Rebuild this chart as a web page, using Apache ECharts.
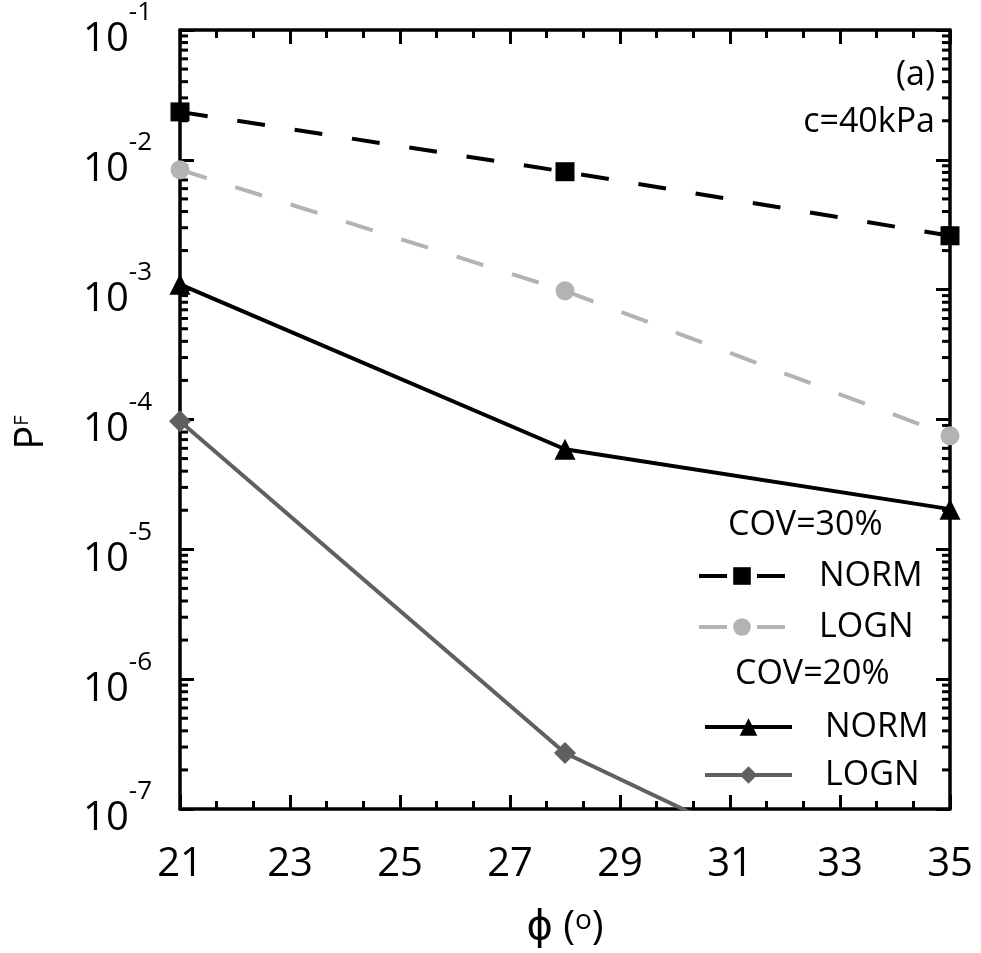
<!DOCTYPE html>
<html>
<head>
<meta charset="utf-8">
<script src="https://cdn.jsdelivr.net/npm/echarts@6/dist/echarts.min.js"></script>
<style>html,body{margin:0;padding:0;background:#fff;}#c{width:981px;height:953px;}</style>
</head>
<body>
<div id="c"></div>
<script>
// ---- data ----
var phi = [21, 28, 35];
var normCov30 = [0.0234, 0.0081, 0.0026];
var lognCov30 = [0.0084, 0.00098, 0.000075];
var normCov20 = [0.0011, 0.000059, 0.0000204];
var lognCov20 = [0.000097, 0.00000027, 0.0000000105];
var xTicks = [21, 23, 25, 27, 29, 31, 33, 35];
var yDecades = [-7, -6, -5, -4, -3, -2, -1];
var minorMult = [2, 3, 4, 5, 6, 7, 8, 9];

var FONT = "'Open Sans', 'DejaVu Sans', sans-serif";

function pairs(xs, ys) { return xs.map(function (x, i) { return [x, ys[i]]; }); }

// log minor ticks values
var minorVals = [];
yDecades.slice(0, -1).forEach(function (e) {
  minorMult.forEach(function (m) { minorVals.push([xTicks[0], m * Math.pow(10, e)]); });
});

var chart = echarts.init(document.getElementById('c'));

var axisLineStyle = { color: '#000', width: 3.5 };
var tickStyle = { color: '#000', width: 3 };

var option = {
  backgroundColor: '#fff',
  animation: false,
  grid: { left: 180, right: 31, top: 30, bottom: 144, containLabel: false, outerBoundsMode: 'none' },
  xAxis: [{
    type: 'value', min: xTicks[0], max: xTicks[xTicks.length - 1], interval: 2,
    position: 'bottom',
    name: '{b|\u03d5 (}{s|o}{b|)}', nameLocation: 'middle', nameGap: 98,
    nameTextStyle: { rich: {
      b: { fontSize: 40, fontFamily: FONT, color: '#000', lineHeight: 42 },
      s: { fontSize: 28, fontFamily: FONT, color: '#000', lineHeight: 28, verticalAlign: 'top' }
    } },
    axisLine: { show: true, onZero: false, lineStyle: axisLineStyle },
    axisTick: { show: true, inside: true, length: 14, lineStyle: tickStyle },
    minorTick: { show: true, splitNumber: 3, length: 8, lineStyle: tickStyle },
    splitLine: { show: false },
    axisLabel: { fontSize: 40, fontFamily: FONT, color: '#000', margin: 36 }
  }, {
    type: 'value', min: xTicks[0], max: xTicks[xTicks.length - 1], interval: 2,
    position: 'top',
    axisLine: { show: true, onZero: false, lineStyle: axisLineStyle },
    axisTick: { show: true, inside: true, length: 14, lineStyle: tickStyle },
    minorTick: { show: true, splitNumber: 3, length: 8, lineStyle: tickStyle },
    splitLine: { show: false },
    axisLabel: { show: false }
  }],
  yAxis: [{
    type: 'log', logBase: 10, min: 1e-7, max: 1e-1, interval: 1,
    position: 'left',
    name: '{p|P}{s|F}', nameLocation: 'middle', nameRotate: 90, nameGap: 110,
    nameTextStyle: { rich: {
      p: { fontSize: 40, fontFamily: FONT, color: '#000', lineHeight: 20, verticalAlign: 'top' },
      s: { fontSize: 20, fontFamily: FONT, color: '#000', lineHeight: 58, verticalAlign: 'top', padding: [0, 26, 0, 0] }
    } },
    axisLine: { show: true, onZero: false, lineStyle: axisLineStyle },
    axisTick: { show: true, inside: true, length: 14, lineStyle: tickStyle },
    splitLine: { show: false },
    axisLabel: {
      margin: 28,
      formatter: function (v) { return '{b|10}{s|' + Math.round(Math.log10(v)) + '}'; },
      rich: {
        b: { fontSize: 40, fontFamily: FONT, color: '#000', lineHeight: 60, verticalAlign: 'bottom' },
        s: { fontSize: 26, fontFamily: FONT, color: '#000', lineHeight: 26, verticalAlign: 'top' }
      }
    }
  }, {
    type: 'log', logBase: 10, min: 1e-7, max: 1e-1, interval: 1,
    position: 'right',
    axisLine: { show: true, onZero: false, lineStyle: axisLineStyle },
    axisTick: { show: true, inside: true, length: 14, lineStyle: tickStyle },
    splitLine: { show: false },
    axisLabel: { show: false }
  }],
  legend: [{
    data: ['NORM (COV=30%)', 'LOGN (COV=30%)'],
    orient: 'vertical', left: 697, top: 559, padding: 0,
    itemWidth: 86, itemHeight: 22, itemGap: 17,
    lineStyle: { width: 4 },
    formatter: function (n) { return n.split(' ')[0]; },
    textStyle: { fontSize: 34, fontFamily: FONT, color: '#000', padding: [0, 0, 0, 29] }
  }, {
    data: ['NORM (COV=20%)', 'LOGN (COV=20%)'],
    orient: 'vertical', left: 703, top: 710, padding: 0,
    itemWidth: 87, itemHeight: 22, itemGap: 14,
    lineStyle: { width: 4 },
    formatter: function (n) { return n.split(' ')[0]; },
    textStyle: { fontSize: 34, fontFamily: FONT, color: '#000', padding: [0, 0, 0, 28] }
  }],
  graphic: [
    { type: 'text', right: 46, top: 58, style: { text: '(a)', fontSize: 34, fontFamily: FONT, fill: '#000' } },
    { type: 'text', right: 46, top: 105, style: { text: 'c=40kPa', fontSize: 34, fontFamily: FONT, fill: '#000' } },
    { type: 'text', left: 728, top: 508, style: { text: 'COV=30%', fontSize: 34, fontFamily: FONT, fill: '#000' } },
    { type: 'text', left: 735, top: 657, style: { text: 'COV=20%', fontSize: 34, fontFamily: FONT, fill: '#000' } }
  ],
  series: [{
    name: 'minorTicks', type: 'custom', silent: true, xAxisIndex: 0, yAxisIndex: 0,
    data: minorVals, z: 1,
    renderItem: function (params, api) {
      var v = api.value(1);
      var a = api.coord([xTicks[0], v]);
      var b = api.coord([xTicks[xTicks.length - 1], v]);
      var st = { stroke: '#000', lineWidth: 3 };
      return { type: 'group', children: [
        { type: 'line', shape: { x1: a[0], y1: a[1], x2: a[0] + 8, y2: a[1] }, style: st },
        { type: 'line', shape: { x1: b[0], y1: b[1], x2: b[0] - 8, y2: b[1] }, style: st }
      ] };
    }
  }, {
    name: 'NORM (COV=30%)', type: 'line', data: pairs(phi, normCov30),
    symbol: 'rect', symbolSize: 19, color: '#000',
    lineStyle: { color: '#000', width: 4, type: [28, 30] },
    itemStyle: { color: '#000' }
  }, {
    name: 'LOGN (COV=30%)', type: 'line', data: pairs(phi, lognCov30),
    symbol: 'circle', symbolSize: 19, color: '#b3b3b3',
    lineStyle: { color: '#b3b3b3', width: 4, type: [28, 30] },
    itemStyle: { color: '#b3b3b3' }
  }, {
    name: 'NORM (COV=20%)', type: 'line', data: pairs(phi, normCov20),
    symbol: 'triangle', symbolSize: 21, color: '#000',
    lineStyle: { color: '#000', width: 4 },
    itemStyle: { color: '#000' }
  }, {
    name: 'LOGN (COV=20%)', type: 'line', data: pairs(phi, lognCov20),
    symbol: 'diamond', symbolSize: 22, color: '#606060',
    lineStyle: { color: '#606060', width: 4 },
    itemStyle: { color: '#606060' }
  }]
};
chart.setOption(option);
</script>
</body>
</html>
